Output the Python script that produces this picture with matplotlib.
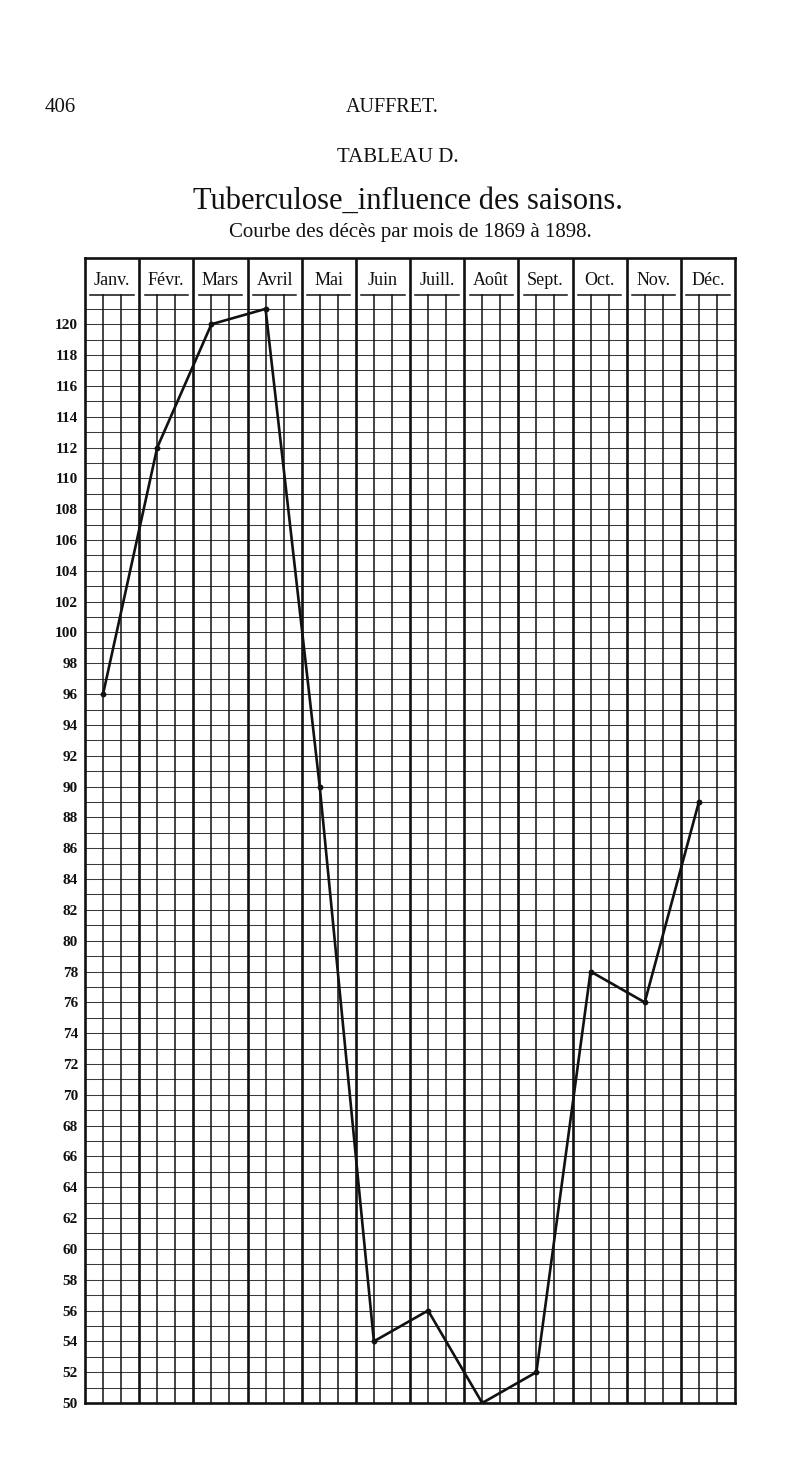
"""Tableau D - Tuberculose, influence des saisons (deaths per month 1869-1898)."""
import matplotlib; matplotlib.use("Agg")
import matplotlib.pyplot as plt

months = ["Janv.", "Févr.", "Mars", "Avril", "Mai", "Juin",
          "Juill.", "Août", "Sept.", "Oct.", "Nov.", "Déc."]
deaths = [96, 112, 120, 121, 90, 54, 56, 50, 52, 78, 76, 89]
yticks = list(range(50, 121, 2))

INK = "#111111"
SERIF = ["Liberation Serif", "DejaVu Serif"]
plt.rcParams["font.family"] = SERIF

YMIN, YGRID, YLINE, YTOP = 50, 121, 121.9, 124.3

fig = plt.figure(figsize=(8, 14.74), dpi=100, facecolor="white")
ax = fig.add_axes([85 / 800, 71 / 1474, 650 / 800, 1145 / 1474])
ax.set_xlim(0, len(months))
ax.set_ylim(YMIN, YTOP)

# horizontal grid, one line per unit
for v in range(YMIN, YGRID + 1):
    ax.plot([0, len(months)], [v, v], color="#3a3a3a", lw=0.75, zorder=1)

# month columns: heavy separators, thin sub-divisions, header underline
for i, m in enumerate(months):
    if i > 0:
        ax.plot([i, i], [YMIN, YTOP], color=INK, lw=1.9, zorder=2)
    for f in (1 / 3, 2 / 3):
        ax.plot([i + f, i + f], [YMIN, YLINE], color=INK, lw=1.1, zorder=2)
    ax.plot([i + 0.1, i + 0.9], [YLINE, YLINE], color=INK, lw=1.1, zorder=2)
    ax.text(i + 0.5, 122.85, m, ha="center", va="center", fontsize=13,
            color=INK)

xs = [i + 1 / 3 for i in range(len(months))]
ax.plot(xs, deaths, color=INK, lw=1.9, marker="o", ms=3.2, zorder=4)

ax.set_xticks([])
ax.set_yticks(yticks)
ax.set_yticklabels([str(v) for v in yticks], fontsize=11, fontweight="bold",
                   color=INK)
ax.tick_params(axis="y", length=0, pad=5)
for sp in ax.spines.values():
    sp.set_linewidth(1.9)
    sp.set_color(INK)

fig.text(60 / 800, 1 - 108 / 1474, "406", ha="center", va="center",
         fontsize=15, color=INK)
fig.text(392 / 800, 1 - 108 / 1474, "AUFFRET.", ha="center", va="center",
         fontsize=14.5, color=INK)
fig.text(398 / 800, 1 - 157 / 1474, "TABLEAU D.", ha="center", va="center",
         fontsize=15, color=INK)
fig.text(408 / 800, 1 - 201 / 1474, "Tuberculose_influence des saisons.",
         ha="center", va="center", fontsize=22, color=INK)
fig.text(410 / 800, 1 - 233 / 1474, "Courbe des décès par mois de 1869 à 1898.",
         ha="center", va="center", fontsize=15, color=INK)

fig.savefig("out.png", dpi=100, facecolor="white")
